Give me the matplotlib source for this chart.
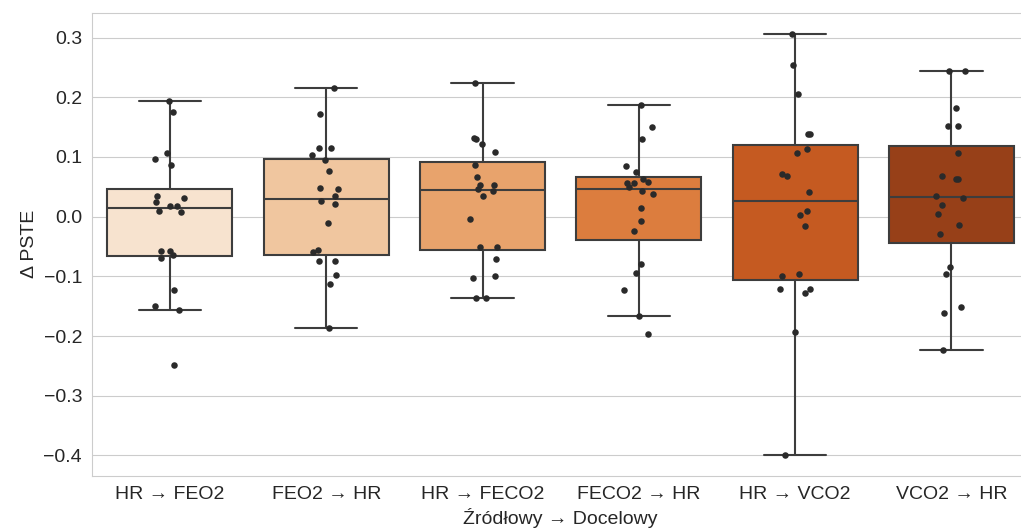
import numpy as np
import matplotlib
matplotlib.use('Agg')
import matplotlib.pyplot as plt
import seaborn as sns

sns.set_style('whitegrid')
plt.rcParams['font.family'] = ['Liberation Sans', 'DejaVu Sans']

labels = ['HR → FEO2', 'FEO2 → HR', 'HR → FECO2', 'FECO2 → HR', 'HR → VCO2', 'VCO2 → HR']

# values, with the horizontal jitter of every dot
hr_feo2 = [0.194, 0.175, 0.106, 0.097, 0.086, 0.034, 0.031, 0.025, 0.018, 0.018,
           0.010, 0.008, -0.058, -0.058, -0.064, -0.069, -0.123, -0.150, -0.157, -0.248]
hr_feo2_dx = [-0.004, 0.021, -0.019, -0.094, 0.009, -0.083, 0.092, -0.088, 0.0, 0.047,
              -0.073, 0.073, -0.060, 0.002, 0.021, -0.060, 0.028, -0.094, 0.060, 0.026]

feo2_hr = [0.215, 0.1725, 0.115, 0.115, 0.103, 0.095, 0.076, 0.0486, 0.046, 0.034,
           0.026, 0.021, -0.011, -0.056, -0.060, -0.075, -0.075, -0.098, -0.112, -0.187]
feo2_hr_dx = [0.051, -0.041, -0.049, 0.032, -0.094, -0.011, 0.015, -0.038, 0.073, 0.056,
              -0.036, 0.056, 0.011, -0.053, -0.085, -0.047, 0.053, 0.062, 0.026, 0.019]

hr_feco2 = [0.2233, 0.132, 0.1295, 0.121, 0.109, 0.0866, 0.0665, 0.0525, 0.0525, 0.0464,
            0.043, 0.035, -0.0034, -0.051, -0.051, -0.0715, -0.099, -0.103, -0.136, -0.136]
hr_feco2_dx = [-0.051, -0.053, -0.041, -0.006, 0.081, -0.047, -0.036, -0.019, 0.071, -0.028,
               0.068, 0.004, -0.081, -0.017, 0.094, 0.088, 0.079, -0.062, -0.043, 0.021]

feco2_hr = [0.1876, 0.150, 0.1307, 0.085, 0.0754, 0.0625, 0.0575, 0.0558, 0.0558, 0.049,
            0.0424, 0.038, 0.0145, -0.0072, -0.0246, -0.080, -0.095, -0.123, -0.166, -0.197]
feco2_hr_dx = [0.013, 0.083, 0.019, -0.081, -0.015, 0.024, 0.056, -0.077, -0.034, -0.064,
               0.021, 0.092, 0.013, 0.017, -0.030, 0.015, -0.017, -0.098, 0.002, 0.056]

hr_vco2 = [0.3065, 0.2535, 0.2055, 0.139, 0.1385, 0.1134, 0.1067, 0.0709, 0.0681, 0.0419,
           0.0095, 0.0022, -0.0151, -0.0966, -0.100, -0.1218, -0.1218, -0.128, -0.194, -0.399]
hr_vco2_dx = [-0.017, -0.015, 0.017, 0.083, 0.092, 0.079, 0.009, -0.085, -0.051, 0.088,
              0.073, 0.028, 0.064, 0.026, -0.081, -0.094, 0.094, 0.064, 0.002, -0.064]

vco2_hr = [0.2434, 0.2434, 0.1815, 0.1513, 0.1513, 0.1067, 0.0675, 0.0625, 0.0625, 0.0347,
           0.0318, 0.0201, 0.0045, -0.0139, -0.0296, -0.0849, -0.0966, -0.1508, -0.161, -0.224]
vco2_hr_dx = [-0.015, 0.088, 0.032, -0.019, 0.045, 0.041, -0.058, 0.028, 0.041, -0.096,
              0.071, -0.060, -0.083, 0.051, -0.071, -0.009, -0.034, 0.064, -0.049, -0.056]

values = [hr_feo2, feo2_hr, hr_feco2, feco2_hr, hr_vco2, vco2_hr]
offsets = [hr_feo2_dx, feo2_hr_dx, hr_feco2_dx, feco2_hr_dx, hr_vco2_dx, vco2_hr_dx]

colors = sns.color_palette('Oranges', 6, desat=0.75)
edge = '#3d3d3d'

fig = plt.figure(figsize=(10.21, 5.31), dpi=100)
ax = fig.add_axes([0.0899, 0.1036, 0.9185, 0.8725])

pos = np.arange(len(labels))
bp = ax.boxplot(values, positions=pos, widths=0.8, capwidths=0.4, patch_artist=True,
                showfliers=False, whis=1.5,
                boxprops=dict(edgecolor=edge, linewidth=1.5),
                medianprops=dict(color=edge, linewidth=1.5),
                whiskerprops=dict(color=edge, linewidth=1.5),
                capprops=dict(color=edge, linewidth=1.5))
for patch, c in zip(bp['boxes'], colors):
    patch.set_facecolor(c)

for i, (v, dx) in enumerate(zip(values, offsets)):
    ax.scatter(i + np.array(dx), v, s=22, color='#2a2a2a', linewidths=0, zorder=3)

ax.set_xlim(-0.5, 5.5)
ax.set_ylim(-0.4345, 0.3418)
ax.set_xticks(pos)
ax.set_xticklabels(labels)
ax.set_yticks([-0.4, -0.3, -0.2, -0.1, 0.0, 0.1, 0.2, 0.3])
ax.tick_params(axis='both', labelsize=14, pad=7, length=0, labelcolor='#262626')
ax.set_xlabel('Źródłowy → Docelowy', fontsize=14, color='#262626', labelpad=4)
ax.set_ylabel('Δ PSTE', fontsize=14, color='#262626')
ax.grid(axis='x', visible=False)

fig.savefig('out.png', dpi=100)
